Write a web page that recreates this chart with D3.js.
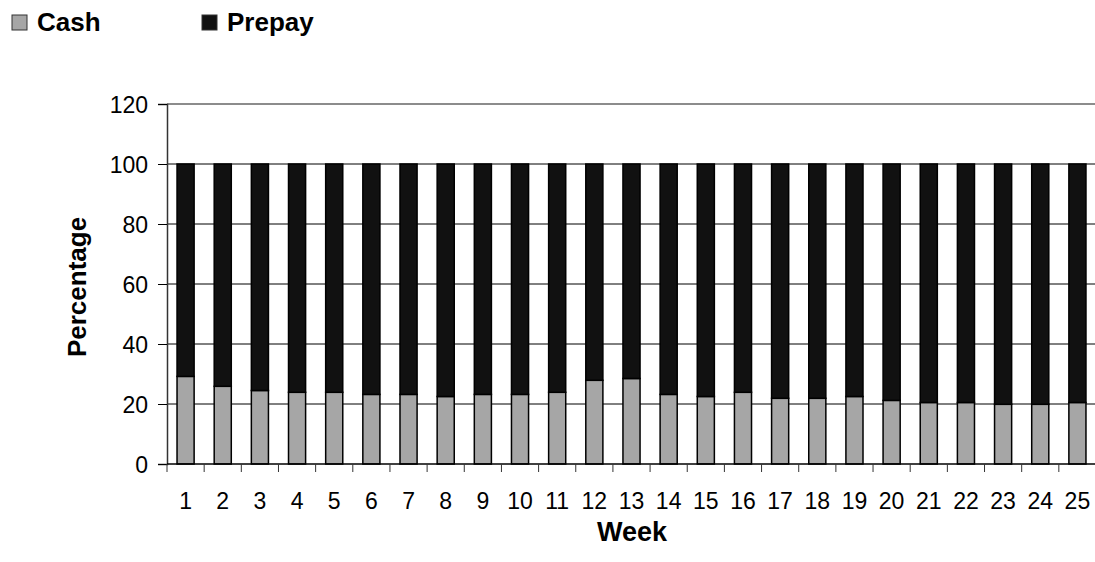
<!DOCTYPE html>
<html>
<head>
<meta charset="utf-8">
<script src="https://cdn.jsdelivr.net/npm/d3@7/dist/d3.min.js"></script>
<style>
  body { margin: 0; background: #fff; }
  text { font-family: "Liberation Sans", Arial, sans-serif; fill: #000; }
</style>
</head>
<body>
<script>
'use strict';

// Adatok
var weeks = d3.range(1, 26).map(String);
var cash = [29.2, 25.9, 24.5, 23.9, 23.9, 23.2, 23.2, 22.5, 23.2, 23.2, 23.9, 27.9, 28.5,
            23.2, 22.5, 23.9, 21.9, 21.9, 22.5, 21.2, 20.5, 20.5, 19.9, 19.9, 20.5];
var prepay = cash.map(function(c) { return +(100 - c).toFixed(1); });
var yTicks = [0, 20, 40, 60, 80, 100, 120];
var seriesNames = ["Cash", "Prepay"];
var seriesColors = ["#a6a6a6", "#111111"];

var W = 1095, H = 562;
var margin = {left: 167, right: -1, top: 104, bottom: 98};

var svg = d3.select("body").append("svg")
    .attr("width", W)
    .attr("height", H);

var x = d3.scaleBand()
    .domain(weeks)
    .range([margin.left, W - margin.right])
    .paddingInner(0.54)
    .paddingOuter(0.27);

var y = d3.scaleLinear()
    .domain([0, 120])
    .range([H - margin.bottom, margin.top]);

// Rácsvonalak
svg.append("g").selectAll("line")
    .data(yTicks.filter(function(t) { return t > 0; }))
    .enter().append("line")
    .attr("x1", margin.left)
    .attr("x2", W)
    .attr("y1", function(d) { return y(d); })
    .attr("y2", function(d) { return y(d); })
    .attr("stroke", function(d) { return d === 120 ? "#8c8c8c" : "#000"; })
    .attr("stroke-width", function(d) { return d === 120 ? 2 : 1; });

// Oszlopok
var stackData = weeks.map(function(w, i) { return {week: w, Cash: cash[i], Prepay: prepay[i]}; });
var stack = d3.stack().keys(seriesNames)(stackData);

svg.append("g").selectAll("g")
    .data(stack)
    .enter().append("g")
    .attr("fill", function(d, i) { return seriesColors[i]; })
    .selectAll("rect")
    .data(function(d) { return d; })
    .enter().append("rect")
    .attr("x", function(d) { return x(d.data.week); })
    .attr("width", x.bandwidth())
    .attr("y", function(d) { return y(d[1]); })
    .attr("height", function(d) { return y(d[0]) - y(d[1]); })
    .attr("stroke", "#000")
    .attr("stroke-width", 1.5);

// Y tengely
var yAxis = svg.append("g")
    .attr("transform", "translate(" + margin.left + ",0)")
    .call(d3.axisLeft(y).tickValues(yTicks).tickSize(9).tickPadding(10));
yAxis.select(".domain").attr("stroke", "#333").attr("stroke-width", 1.5);
yAxis.selectAll(".tick line").attr("stroke", "#000");
yAxis.selectAll("text")
    .attr("font-size", 23)
    .attr("dy", "0.36em");

// X tengely (osztásjelek a kategóriahatárokon)
var xAxisY = y(0);
svg.append("line")
    .attr("x1", margin.left).attr("x2", W)
    .attr("y1", xAxisY).attr("y2", xAxisY)
    .attr("stroke", "#000").attr("stroke-width", 1.5);

var step = x.step();
svg.append("g").selectAll("line")
    .data(d3.range(0, weeks.length))
    .enter().append("line")
    .attr("x1", function(d) { return x(weeks[d]) - x.paddingOuter() * step; })
    .attr("x2", function(d) { return x(weeks[d]) - x.paddingOuter() * step; })
    .attr("y1", xAxisY)
    .attr("y2", xAxisY + 8)
    .attr("stroke", "#333");

svg.append("g").selectAll("text")
    .data(weeks)
    .enter().append("text")
    .attr("x", function(d) { return x(d) + x.bandwidth() / 2; })
    .attr("y", 509)
    .attr("text-anchor", "middle")
    .attr("font-size", 23)
    .text(function(d) { return d; });

// Tengelycímek
svg.append("text")
    .attr("x", 632)
    .attr("y", 541)
    .attr("text-anchor", "middle")
    .attr("font-size", 27)
    .attr("font-weight", "bold")
    .text("Week");

svg.append("text")
    .attr("transform", "translate(86,287) rotate(-90)")
    .attr("text-anchor", "middle")
    .attr("font-size", 26)
    .attr("font-weight", "bold")
    .text("Percentage");

// Jelkulcs
var legendX = [12, 202];
var legend = svg.append("g").selectAll("g")
    .data(seriesNames)
    .enter().append("g")
    .attr("transform", function(d, i) { return "translate(" + legendX[i] + ",15)"; });
legend.append("rect")
    .attr("width", 15).attr("height", 15)
    .attr("fill", function(d, i) { return seriesColors[i]; })
    .attr("stroke", "#333").attr("stroke-width", 1);
legend.append("text")
    .attr("x", 25)
    .attr("y", 16)
    .attr("font-size", 26)
    .attr("font-weight", "bold")
    .text(function(d) { return d; });
</script>
</body>
</html>
